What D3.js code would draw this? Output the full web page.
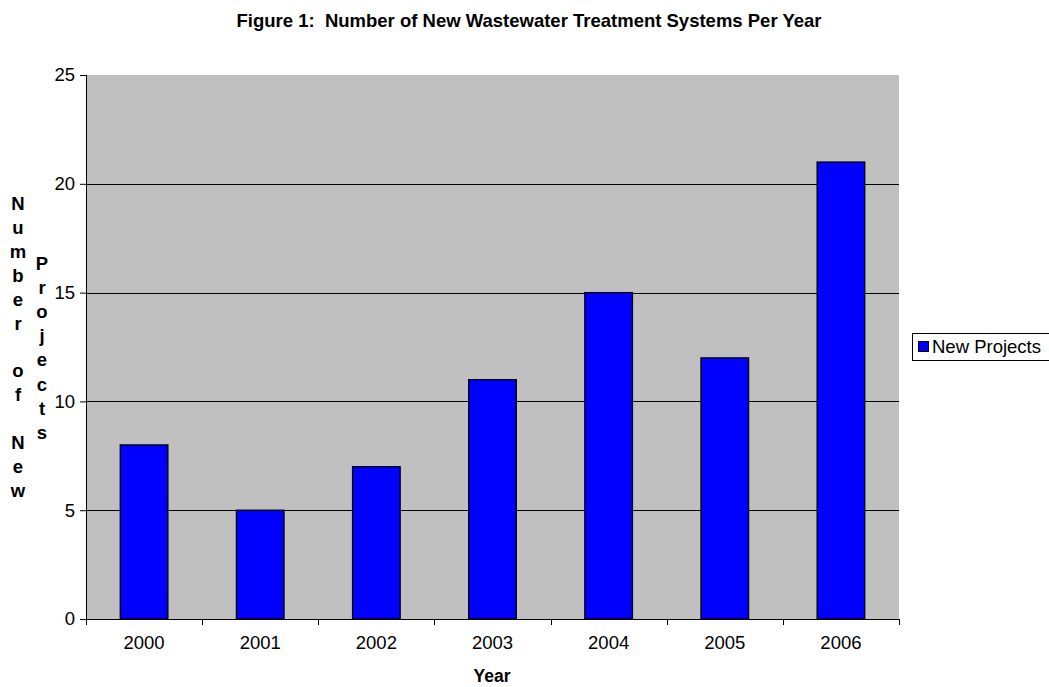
<!DOCTYPE html>
<html><head><meta charset="utf-8">
<script src="https://cdn.jsdelivr.net/npm/d3@7"></script>
<style>body{margin:0;background:#fff}svg{display:block;font-family:Arial,"Liberation Sans",sans-serif}text{white-space:pre}</style>
</head><body><svg id="c" width="1049" height="687"></svg>
<script>
const years = ["2000","2001","2002","2003","2004","2005","2006"];
const newProjects = [8,5,7,11,15,12,21];
const yTicks = [0,5,10,15,20,25];
const title = "Figure 1:  Number of New Wastewater Treatment Systems Per Year";
const yTitle1 = "Number of New";
const yTitle2 = "Projects";
const xTitle = "Year";
const seriesName = "New Projects";

const FS = 18.5;
const svg = d3.select("#c");
const L=86,R=899,T=75,B=619;
const x = d3.scaleBand().domain(years).range([L,R]).paddingInner(0).paddingOuter(0);
const y = d3.scaleLinear().domain([0,25]).range([B,T]);

svg.append("rect").attr("x",L).attr("y",T).attr("width",R-L).attr("height",B-T).attr("fill","#c0c0c0");

// gridlines
svg.append("g").selectAll("line").data(yTicks.filter(d=>d>0&&d<25)).join("line")
  .attr("x1",L).attr("x2",R).attr("y1",d=>Math.round(y(d))+0.5).attr("y2",d=>Math.round(y(d))+0.5)
  .attr("stroke","#000").attr("stroke-width",1);

// bars
const bw = x.bandwidth()*0.41;
svg.append("g").selectAll("rect").data(years).join("rect")
  .attr("x",d=>x(d)+x.bandwidth()/2-bw/2).attr("width",bw)
  .attr("y",(d,i)=>y(newProjects[i])).attr("height",(d,i)=>B-y(newProjects[i]))
  .attr("fill","#0000ff").attr("stroke","#000").attr("stroke-width",1.3);

// y axis
const ya = svg.append("g").attr("transform",`translate(${L},0)`)
  .call(d3.axisLeft(y).tickValues(yTicks).tickSize(6).tickPadding(5));
ya.select(".domain").attr("stroke","#000").attr("d",`M0.5,${T}V${B}`);
ya.selectAll("text").attr("font-size",FS).attr("font-family","Arial, Liberation Sans, sans-serif").attr("fill","#000");

// x axis
const xa = svg.append("g").attr("transform",`translate(0,${B})`)
  .call(d3.axisBottom(x).tickSize(0).tickPadding(17));
xa.select(".domain").attr("stroke","#000").attr("d",`M${L},0.5H${R}`);
xa.selectAll("text").attr("font-size",FS).attr("font-family","Arial, Liberation Sans, sans-serif").attr("fill","#000");
const bounds = years.map(d=>x(d)).concat([R]);
svg.append("g").selectAll("line").data(bounds).join("line")
  .attr("x1",d=>Math.round(d)+0.5).attr("x2",d=>Math.round(d)+0.5).attr("y1",B).attr("y2",B+6)
  .attr("stroke","#000");

// title
svg.append("text").attr("x",529).attr("y",27).attr("text-anchor","middle")
  .attr("font-size",FS).attr("font-weight","bold").text(title);
svg.append("text").attr("x",492).attr("y",682).attr("text-anchor","middle")
  .attr("font-size",17.5).attr("font-weight","bold").text(xTitle);

// vertical y titles
function vert(str,cx,y0,step){
  svg.append("g").selectAll("text").data(str.split("")).join("text")
    .attr("x",cx).attr("y",(d,i)=>y0+i*step).attr("text-anchor","middle")
    .attr("font-size",FS).attr("font-weight","bold").text(d=>d);
}
vert(yTitle1,18,210,23.9);
vert(yTitle2,42,270,24.1);

// legend
svg.append("rect").attr("x",912.5).attr("y",333.5).attr("width",140).attr("height",27).attr("fill","#fff").attr("stroke","#000");
svg.append("rect").attr("x",918.5).attr("y",341.5).attr("width",10).attr("height",10).attr("fill","#0000ff").attr("stroke","#000");
svg.append("text").attr("x",932).attr("y",353).attr("font-size",FS).text(seriesName);
</script></body></html>
